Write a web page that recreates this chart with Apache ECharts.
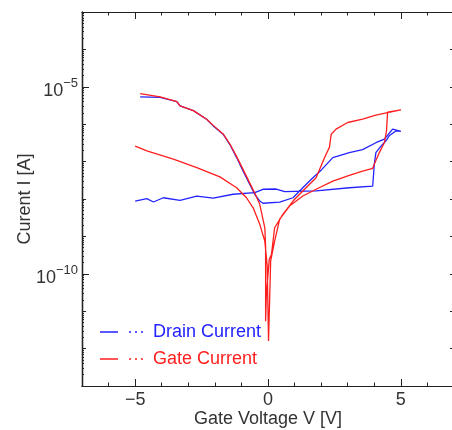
<!DOCTYPE html>
<html>
<head>
<meta charset="utf-8">
<script src="https://cdn.jsdelivr.net/npm/echarts@6/dist/echarts.min.js"></script>
<style>html,body{margin:0;padding:0;background:#fff;}#c{width:452px;height:430px;}</style>
</head>
<body>
<div id="c"></div>
<script>
// Drain current sweep (V, A)
const drainV = [-4.81,-4.06,-3.43,-3.31,-2.81,-2.31,-2.06,-1.69,-1.44,-1.18,
  -0.94,-0.69,-0.50,-0.31,-0.19,0.44,0.94,1.31,1.69,2.00,
  2.44,3.06,3.56,4.06,4.38,4.69,5.0,4.81,4.56,4.44,
  4.25,4.06,4.0,3.94,3.06,1.81,0.63,0.56,0.31,-0.19,
  -0.5,-1.31,-2.06,-2.68,-3.31,-3.94,-4.31,-4.56,-5.0];
const drainI = [5.4e-6,5.2e-6,4.0e-6,3.1e-6,2.3e-6,1.36e-6,9.0e-7,5.4e-7,2.9e-7,1.28e-7,
  5.6e-8,2.5e-8,1.34e-8,8.8e-9,7.7e-9,8.3e-9,1.08e-8,2.0e-8,3.7e-8,5.9e-8,
  1.28e-7,1.74e-7,2.1e-7,3.2e-7,4.0e-7,7.4e-7,6.4e-7,6.6e-7,4.9e-7,3.6e-7,
  2.6e-7,1.74e-7,8.5e-8,2.2e-8,2.0e-8,1.64e-8,1.57e-8,1.77e-8,1.85e-8,1.82e-8,
  1.48e-8,1.34e-8,1.05e-8,1.2e-8,9.2e-9,1.08e-8,8.3e-9,1.02e-8,8.8e-9];
// Gate current sweep (V, A)
const gateV = [-4.81,-4.06,-3.43,-3.31,-2.81,-2.31,-2.06,-1.69,-1.44,-1.18,
  -0.94,-0.69,-0.50,-0.31,-0.12,-0.09,-0.09,-0.06,0.05,0.13,
  0.25,0.56,0.94,1.31,1.81,2.13,2.31,2.38,2.56,3.0,
  3.56,4.06,4.5,5.0,4.5,4.46,4.38,4.19,4.0,3.94,
  3.56,3.06,2.44,1.81,1.31,0.81,0.44,0.25,0.10,0.02,
  -0.03,-0.12,-0.31,-0.56,-0.81,-1.18,-1.81,-2.68,-3.56,-4.56,-5.0];
const gateI = [6.6e-6,5.4e-6,4.0e-6,3.1e-6,2.3e-6,1.36e-6,9.3e-7,5.5e-7,3.0e-7,1.36e-7,
  6.2e-8,2.7e-8,1.45e-8,7.2e-9,1.7e-9,5.5e-10,5.4e-12,3.0e-11,2.5e-10,3.3e-10,
  1.7e-9,3.9e-9,8.8e-9,1.64e-8,3.7e-8,1.28e-7,2.4e-7,5.4e-7,7.4e-7,1.11e-6,
  1.36e-6,1.75e-6,2.05e-6,2.4e-6,2.1e-6,6.6e-7,3.2e-7,1.74e-7,8.5e-8,6.6e-8,
  5.6e-8,4.3e-8,3.0e-8,1.82e-8,1.2e-8,6.5e-9,2.9e-9,7.5e-10,2.2e-10,1.6e-12,
  1.6e-10,7.5e-10,2.1e-9,5.8e-9,1.08e-8,2.0e-8,3.9e-8,6.9e-8,1.16e-7,1.93e-7,2.6e-7];

// Ticks
const xMajorTicks = [-5, 0, 5];
const xMinorTicks = [-7,-6,-5,-4,-3,-2,-1,0,1,2,3,4,5,6,7];
const yLabelTicks = [1e-5, 1e-10];
const yDecadeExps = [-13,-12,-11,-10,-9,-8,-7,-6,-5,-4,-3];

const yDecadeTicks = yDecadeExps.map(e => Math.pow(10, e));
const ySubTicks = [];
yDecadeExps.slice(0, -1).forEach(e => { for (let m = 2; m <= 9; m++) ySubTicks.push(m * Math.pow(10, e)); });

const BLUE = 'rgb(35,35,255)';
const RED = 'rgb(255,30,30)';
const TXT = '#333';
const FONT = '"Liberation Sans", Arial, sans-serif';

function zip(a, b) { return a.map((v, i) => [v, b[i]]); }

function xAx(pos, ticks, len, labels) {
  return {
    type: 'value', min: -7, max: 7, position: pos,
    axisLine: { show: true, onZero: false, lineStyle: { color: '#222', width: 1.2 } },
    axisTick: { show: true, inside: true, length: len, customValues: ticks, lineStyle: { color: '#222', width: 1 } },
    axisLabel: labels ? {
      show: true, customValues: xMajorTicks, fontSize: 18, color: TXT, fontFamily: FONT, margin: 5,
      formatter: v => String(v).replace('-', '\u2212')
    } : { show: false },
    splitLine: { show: false }
  };
}
function yAx(pos, ticks, len, labels) {
  return {
    type: 'log', logBase: 10, min: 1e-13, max: 1e-3, position: pos,
    axisLine: { show: true, onZero: false, lineStyle: { color: '#222', width: 1.2 } },
    axisTick: { show: true, inside: true, length: len, customValues: ticks, lineStyle: { color: '#222', width: 1 } },
    axisLabel: labels ? {
      show: true, customValues: yLabelTicks, color: TXT, fontFamily: FONT, margin: 4,
      formatter: v => '{b|10}{s|\u2212' + Math.round(-Math.log10(v)) + '}',
      rich: {
        b: { fontSize: 18, color: TXT, fontFamily: FONT, padding: [8, 0, 0, 0] },
        s: { fontSize: 13, color: TXT, fontFamily: FONT, padding: [0, 0, 6, 0] }
      }
    } : { show: false },
    splitLine: { show: false }
  };
}

const xAxes = [
  Object.assign(xAx('bottom', xMajorTicks, 7, true), {
    name: 'Gate Voltage V [V]', nameLocation: 'middle', nameGap: 24, nameMoveOverlap: false,
    nameTextStyle: { fontSize: 18, color: TXT, fontFamily: FONT }
  }),
  xAx('bottom', xMinorTicks, 3.5, false),
  xAx('top', xMajorTicks, 7, false),
  xAx('top', xMinorTicks, 3.5, false)
];
const yAxes = [
  Object.assign(yAx('left', yLabelTicks, 7, true), {
    name: 'Curent I [A]', nameLocation: 'middle', nameGap: 48, nameMoveOverlap: false,
    nameTextStyle: { fontSize: 18, color: TXT, fontFamily: FONT }
  }),
  yAx('left', yDecadeTicks, 4, false),
  yAx('left', ySubTicks, 2, false),
  yAx('right', yDecadeTicks, 4, false),
  yAx('right', ySubTicks, 2, false)
];

const icon = 'path://M0,0L18,0L18,1.6L0,1.6Z M29,0L31,0L31,1.6L29,1.6Z M35,0L37,0L37,1.6L35,1.6Z M41,0L43,0L43,1.6L41,1.6Z M48,0L48,1.6Z';

const chart = echarts.init(document.getElementById('c'), null, { renderer: 'canvas' });
chart.setOption({
  backgroundColor: '#fff',
  animation: false,
  grid: { left: 82, top: 12, width: 372, height: 374, containLabel: false, outerBoundsMode: 'none' },
  xAxis: xAxes,
  yAxis: yAxes,
  legend: {
    orient: 'vertical', left: 100, top: 323, padding: 0, itemGap: 9, itemWidth: 48, itemHeight: 2,
    icon: icon, selectedMode: false,
    textStyle: { fontSize: 18, fontFamily: FONT },
    data: [
      { name: 'Drain Current', textStyle: { color: BLUE } },
      { name: 'Gate Current', textStyle: { color: RED } }
    ]
  },
  series: [
    { name: 'Drain Current', type: 'line', data: zip(drainV, drainI), showSymbol: false, symbol: 'none',
      lineStyle: { color: BLUE, width: 1.3 }, itemStyle: { color: BLUE }, xAxisIndex: 0, yAxisIndex: 0 },
    { name: 'Gate Current', type: 'line', data: zip(gateV, gateI), showSymbol: false, symbol: 'none',
      lineStyle: { color: RED, width: 1.3 }, itemStyle: { color: RED }, xAxisIndex: 0, yAxisIndex: 0 }
  ]
});
</script>
</body>
</html>
